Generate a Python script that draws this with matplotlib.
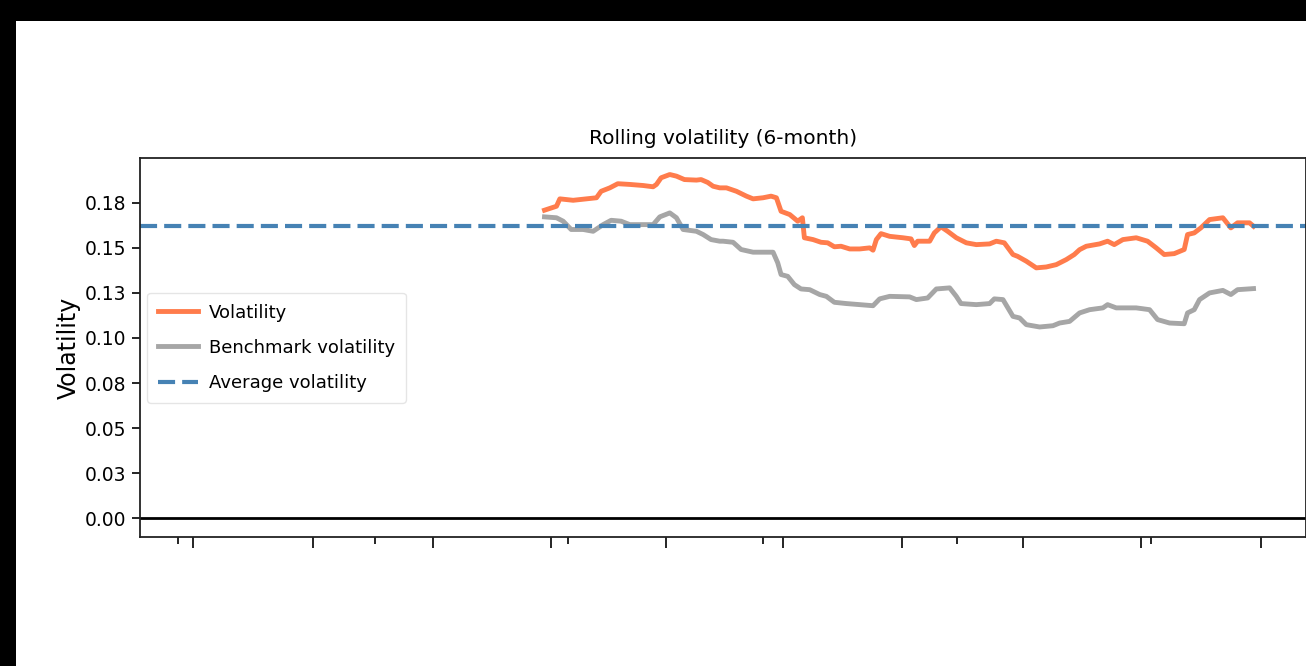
import matplotlib
matplotlib.use("Agg")
import matplotlib.pyplot as plt
from matplotlib.patches import Rectangle
from matplotlib.ticker import MultipleLocator, FuncFormatter, FixedLocator

# x values are calendar days from the left edge of the axis
vol_days = [607, 625, 630, 650, 670, 685, 692, 705, 717, 735, 755, 770, 775,
            782, 795, 805, 817, 835, 842, 852, 860, 870, 880, 895, 910, 920,
            935, 947, 955, 962, 975, 987, 994, 997, 1010, 1022, 1032, 1042,
            1052, 1065, 1080, 1095, 1100, 1105, 1112, 1125, 1145, 1157, 1162,
            1167, 1185, 1192, 1202, 1212, 1225, 1240, 1255, 1275, 1285, 1297,
            1310, 1317, 1330, 1345, 1360, 1375, 1390, 1402, 1410, 1420, 1440,
            1452, 1462, 1475, 1495, 1512, 1525, 1537, 1552, 1567, 1572, 1582,
            1592, 1605, 1625, 1637, 1647, 1665, 1671]
volatility = [0.1709, 0.1731, 0.1772, 0.1764, 0.1772, 0.1778, 0.1814, 0.1833,
              0.1856, 0.1852, 0.1846, 0.1839, 0.1852, 0.1889, 0.1907, 0.1898,
              0.1879, 0.1876, 0.1879, 0.1863, 0.1842, 0.1833, 0.1833, 0.1814,
              0.1787, 0.1772, 0.1778, 0.1787, 0.1778, 0.1703, 0.1685, 0.1648,
              0.1667, 0.1556, 0.1546, 0.1531, 0.1528, 0.1506, 0.1509, 0.1494,
              0.1494, 0.1500, 0.1487, 0.1546, 0.1579, 0.1564, 0.1556, 0.1550,
              0.1513, 0.1537, 0.1537, 0.1583, 0.1617, 0.1592, 0.1556, 0.1528,
              0.1518, 0.1522, 0.1537, 0.1528, 0.1463, 0.1453, 0.1426, 0.1389,
              0.1394, 0.1407, 0.1435, 0.1463, 0.1490, 0.1509, 0.1522, 0.1537,
              0.1518, 0.1546, 0.1556, 0.1537, 0.1500, 0.1463, 0.1468, 0.1491,
              0.1574, 0.1583, 0.1611, 0.1657, 0.1667, 0.1611, 0.1639, 0.1639,
              0.1620]

bench_days = [607, 625, 635, 647, 665, 680, 695, 707, 722, 735, 770, 780, 795,
              805, 815, 835, 845, 857, 870, 875, 890, 902, 920, 950, 957, 962,
              972, 982, 992, 1005, 1020, 1030, 1042, 1060, 1080, 1100, 1110,
              1125, 1155, 1165, 1182, 1195, 1215, 1225, 1232, 1255, 1275, 1282,
              1295, 1310, 1320, 1330, 1350, 1370, 1380, 1395, 1410, 1425, 1445,
              1452, 1465, 1495, 1515, 1527, 1545, 1567, 1572, 1582, 1590, 1605,
              1625, 1637, 1647, 1671]
bench_volatility = [0.1672, 0.1667, 0.1648, 0.1602, 0.1602, 0.1592, 0.1629,
                    0.1653, 0.1648, 0.1629, 0.1629, 0.1672, 0.1694, 0.1667,
                    0.1602, 0.1592, 0.1574, 0.1546, 0.1537, 0.1537, 0.1531,
                    0.1491, 0.1476, 0.1476, 0.1417, 0.1352, 0.1342, 0.1296,
                    0.1272, 0.1268, 0.1241, 0.1231, 0.1198, 0.1191, 0.1185,
                    0.1179, 0.1217, 0.1231, 0.1228, 0.1213, 0.1222, 0.1272,
                    0.1278, 0.1231, 0.1191, 0.1185, 0.1191, 0.1217, 0.1213,
                    0.1120, 0.1111, 0.1074, 0.1061, 0.1068, 0.1083, 0.1092,
                    0.1139, 0.1157, 0.1167, 0.1185, 0.1167, 0.1167, 0.1157,
                    0.1102, 0.1083, 0.1079, 0.1139, 0.1157, 0.1213, 0.1250,
                    0.1264, 0.1241, 0.1268, 0.1274]

avg_volatility = 0.1624
legend_labels = ["Volatility", "Benchmark volatility", "Average volatility"]

major_days = [80, 260, 440, 617, 789, 965, 1143, 1325, 1502, 1682]
minor_days = [57, 352, 643, 935, 1226, 1517]

fig = plt.figure(figsize=(13.06, 6.66), dpi=100, facecolor="black")
fig.patches.append(Rectangle((16 / 1306, 0), 1, 645 / 666, transform=fig.transFigure,
                             facecolor="white", edgecolor="none", zorder=-1))
ax = fig.add_axes([140 / 1306, 128.7 / 666, 1165.5 / 1306, 379 / 666])

ax.plot(vol_days, volatility, color="orangered", alpha=0.7, lw=3.5, label=legend_labels[0])
ax.plot(bench_days, bench_volatility, color="grey", alpha=0.7, lw=3.5, label=legend_labels[1])
ax.axhline(avg_volatility, color="steelblue", linestyle="--", dashes=(4.1, 1.7), lw=3,
           label=legend_labels[2])
ax.axhline(0.0, color="black", linestyle="-", lw=2)

ax.set_xlim(0, 1749)
ax.set_ylim(-0.0106, 0.1997)
ax.yaxis.set_major_locator(MultipleLocator(0.025))
ax.yaxis.set_major_formatter(FuncFormatter(lambda y, pos: "%.2f" % y))
ax.xaxis.set_major_locator(FixedLocator(major_days))
ax.xaxis.set_minor_locator(FixedLocator(minor_days))
ax.tick_params(axis="x", which="major", length=8, width=1.2, labelbottom=False)
ax.tick_params(axis="x", which="minor", length=5, width=1.2)
ax.tick_params(axis="y", which="major", length=6, width=1.2, labelsize=13.5, pad=4)
for sp in ax.spines.values():
    sp.set_linewidth(1.3)
    sp.set_color("#222222")

ax.set_title("Rolling volatility (6-month)", fontsize=14.5, pad=10)
ax.set_ylabel("Volatility", fontsize=17, labelpad=3)
ax.legend(loc="center left", frameon=True, framealpha=0.5, fontsize=13,
          labelspacing=0.95, handlelength=2.2, handletextpad=0.6, borderpad=0.6,
          borderaxespad=0.4)

fig.savefig("out.png", dpi=100, facecolor=fig.get_facecolor())
